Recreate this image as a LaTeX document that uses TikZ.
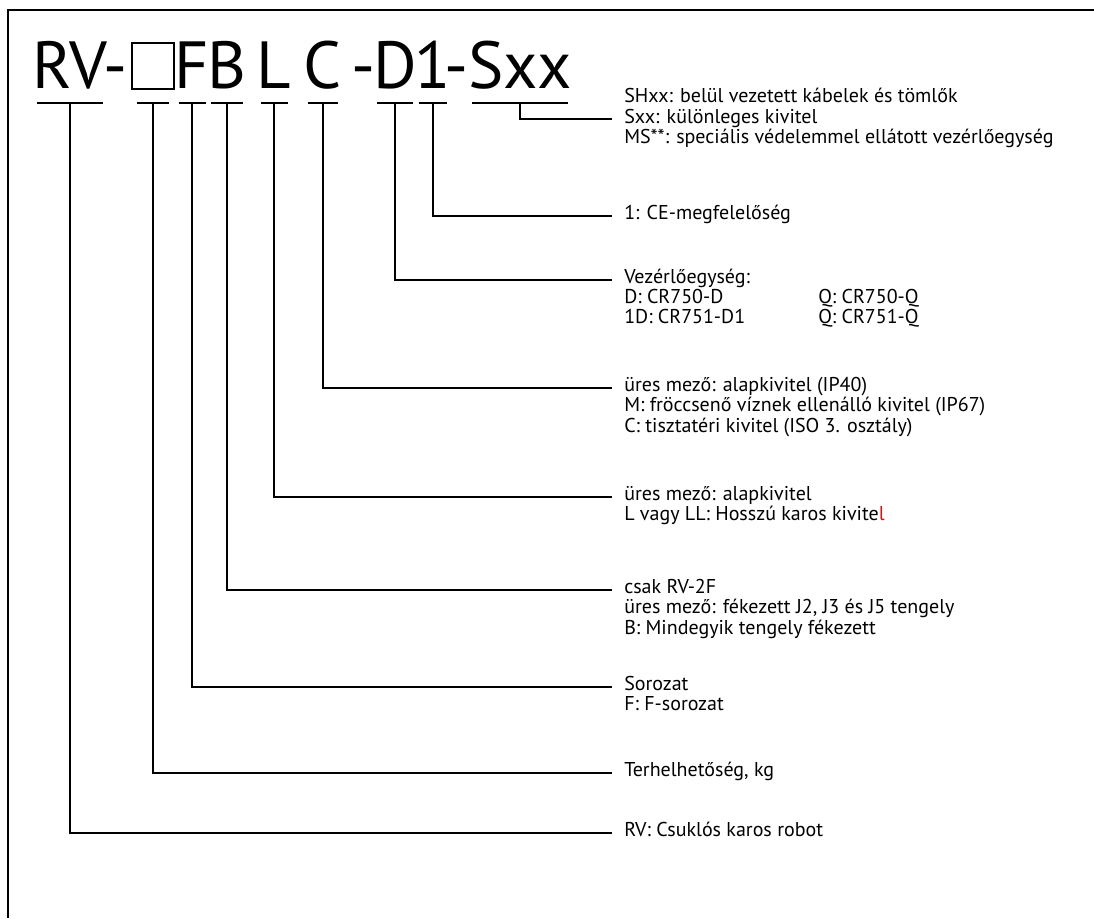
\documentclass[tikz,border=0pt]{standalone}
\usepackage{fontspec}
\setmainfont{PT Sans}
\usepackage{xcolor}
\usetikzlibrary{positioning,calc}
\newcommand{\labrows}[1]{\begin{tabular}[t]{@{}l@{}}#1\end{tabular}}

\begin{document}
\begin{tikzpicture}[
x=0.75pt,
y=-0.75pt,
code/.style={anchor=base,font=\fontsize{50}{50}\selectfont,inner xsep=-3pt,inner ysep=11.25pt,text depth=0pt},
hyph/.style={anchor=base,font=\fontsize{50}{50}\selectfont,inner sep=0pt},
lbl/.style={anchor=mid west,inner xsep=9pt,inner ysep=0pt,font=\fontsize{15}{15}\selectfont},
uline/.style={line width=1.4pt},
conn/.style={line width=1.4pt},
frame/.style={line width=1.5pt}
]
\useasboundingbox (0,0) rectangle (1094,918);
\draw[frame] (1094,10) -- (8,10) -- (8,918);

% type code
\node[code] (rv) at (70,88) {RV};
\node[hyph] (h1) at (115,88) {-};
\node[code,inner xsep=-4.5pt] (cap) at (153,88) {\setlength{\fboxsep}{0pt}\setlength{\fboxrule}{1.2pt}\fbox{\rule{0pt}{33pt}\hspace{30.6pt}}};
\node[code] (f) at (192,88) {F};
\node[code] (b) at (227,88) {B};
\node[code] (l) at (274,88) {L};
\node[code] (c) at (323,88) {C};
\node[hyph] (h2) at (363,88) {-};
\node[code] (d) at (395,88) {D};
\node[code] (one) at (433,88) {1};
\node[hyph] (h3) at (456,88) {-};
\node[code] (sxx) at (520,88) {Sxx};

% explanations
\node[lbl,anchor=west] (lblS) at (612,119) {\labrows{SHxx: belül vezetett kábelek és tömlők\\Sxx: különleges kivitel\\MS**: speciális védelemmel ellátott vezérlőegység}};
\node[lbl] (lblOne) at (612,216) {\labrows{1: CE-megfelelőség}};
\node[lbl] (lblD) at (612,280) {\labrows{Vezérlőegység:\\\makebox[145.5pt][l]{D: CR750-D}Q: CR750-Q\\\makebox[145.5pt][l]{1D: CR751-D1}Q: CR751-Q}};
\node[lbl] (lblC) at (612,388) {\labrows{üres mező: alapkivitel (IP40)\\M: fröccsenő víznek ellenálló kivitel (IP67)\\C: tisztatéri kivitel (ISO 3. osztály)}};
\node[lbl] (lblL) at (612,497) {\labrows{üres mező: alapkivitel\\L vagy LL: Hosszú karos kivite\textcolor{red}{l}}};
\node[lbl] (lblB) at (612,590) {\labrows{csak RV-2F\\üres mező: fékezett J2, J3 és J5 tengely\\B: Mindegyik tengely fékezett}};
\node[lbl] (lblF) at (612,687) {\labrows{Sorozat\\F: F-sorozat}};
\node[lbl] (lblCap) at (612,773) {\labrows{Terhelhetőség, kg}};
\node[lbl] (lblRV) at (612,833) {\labrows{RV: Csuklós karos robot}};

\foreach \p in {rv,cap,f,b,l,c,d,one,sxx}
  \draw[uline] (\p.south west) -- (\p.south east);

\draw[conn] (sxx.south) |- (lblS.west);
\draw[conn] (one.south) |- (lblOne.mid west);
\draw[conn] (d.south) |- (lblD.mid west);
\draw[conn] (c.south) |- (lblC.mid west);
\draw[conn] (l.south) |- (lblL.mid west);
\draw[conn] (b.south) |- (lblB.mid west);
\draw[conn] (f.south) |- (lblF.mid west);
\draw[conn] (cap.south) |- (lblCap.mid west);
\draw[conn] (rv.south) |- (lblRV.mid west);
\end{tikzpicture}
\end{document}
